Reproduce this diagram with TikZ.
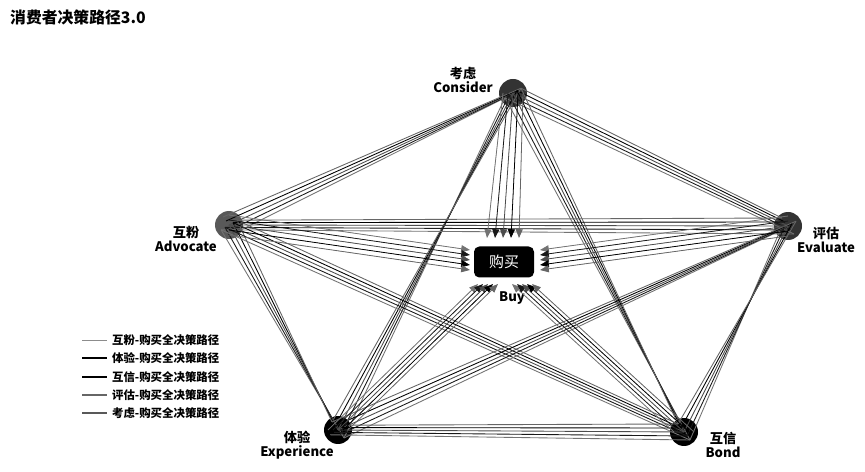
\documentclass[tikz,border=0pt]{standalone}
\usepackage{fontspec}
\setmainfont{Noto Sans CJK SC}
\usetikzlibrary{arrows.meta}
\begin{document}
\begin{tikzpicture}[x=0.02cm,y=-0.02cm,
  vtx/.style={circle,minimum size=0.56cm,inner sep=0pt},
  lbl/.style={font=\fontsize{7.5}{8}\selectfont\bfseries,align=center,inner sep=1pt},
  pair/.style={line width=0.5pt,draw=black!75},
  arr/.style={line width=0.45pt,-{Triangle[length=5pt,width=4pt]}},
  leg/.style={font=\fontsize{6.5}{7}\selectfont\bfseries,anchor=west,inner sep=1pt}]
\useasboundingbox (0,0) rectangle (865,472);
\node[anchor=west,font=\fontsize{9}{10}\selectfont\bfseries] (title) at (4,17) {消费者决策路径3.0};
\node[vtx,fill=black!80] (con) at (513,93) {};
\node[vtx,fill=black!65] (adv) at (229,225) {};
\node[vtx,fill=black!80] (eva) at (788,226) {};
\node[vtx,fill=black] (exp) at (338,430) {};
\node[vtx,fill=black] (bond) at (684,432) {};
\node[lbl] (lcon) at (463,80) {考虑\\Consider};
\node[lbl] (ladv) at (186,239) {互粉\\Advocate};
\node[lbl] (leva) at (826,240) {评估\\Evaluate};
\node[lbl] (lexp) at (297,445) {体验\\Experience};
\node[lbl] (lbond) at (723,445) {互信\\Bond};
% pair bundles
\foreach \a/\b in {con/adv,con/eva,con/exp,con/bond,adv/eva,adv/exp,adv/bond,eva/exp,eva/bond,exp/bond}{
  \foreach \o/\c in {-8/black!55,-4/black!90,0/black!70,4/black,8/black!60}{
    \draw[pair,draw=\c] ([shift={(\o*0.02cm,\o*0.012cm)}]\a.center) -- ([shift={(-\o*0.015cm,\o*0.02cm)}]\b.center);
  }
}
\node[fill=black,rounded corners=3pt,minimum width=1.2cm,minimum height=0.62cm,text=white,font=\fontsize{8.5}{9}\selectfont] (buy) at (504,262) {购买};
\node[lbl] (lbuy) at (512,298) {Buy};
% arrows to buy
\foreach \i/\c in {0/black!55,1/black!90,2/black!70,3/black,4/black!60}{
  \coordinate (ct\i) at (487+8*\i,238);
  \coordinate (al\i) at (470,250+5*\i);
  \coordinate (er\i) at (540,250+5*\i);
  \coordinate (xb\i) at (478+5*\i,284);
  \coordinate (bb\i) at (512+5*\i,284);
  \draw[arr,draw=\c,fill=\c] ([xshift={(\i-2)*0.1cm}]con.center) -- (ct\i);
  \draw[arr,draw=\c,fill=\c] ([yshift={(\i-2)*-0.1cm}]adv.center) -- (al\i);
  \draw[arr,draw=\c,fill=\c] ([yshift={(\i-2)*-0.1cm}]eva.center) -- (er\i);
  \draw[arr,draw=\c,fill=\c] ([xshift={(\i-2)*0.1cm}]exp.center) -- (xb\i);
  \draw[arr,draw=\c,fill=\c] ([xshift={(\i-2)*0.1cm}]bond.center) -- (bb\i);
}
% legend
\foreach \y/\t/\c/\w [count=\k] in {340/互粉/black!45/0.5pt,358/体验/black/0.9pt,377/互信/black/0.9pt,395/评估/black!60/0.7pt,413/考虑/black!65/0.7pt}{
  \coordinate (ls\k) at (82,\y);
  \coordinate (le\k) at (107,\y);
  \draw[draw=\c,line width=\w] (ls\k) -- (le\k);
  \node[leg] (lg\k) at (110,\y) {\t{}-购买全决策路径};
}
\end{tikzpicture}
\end{document}
